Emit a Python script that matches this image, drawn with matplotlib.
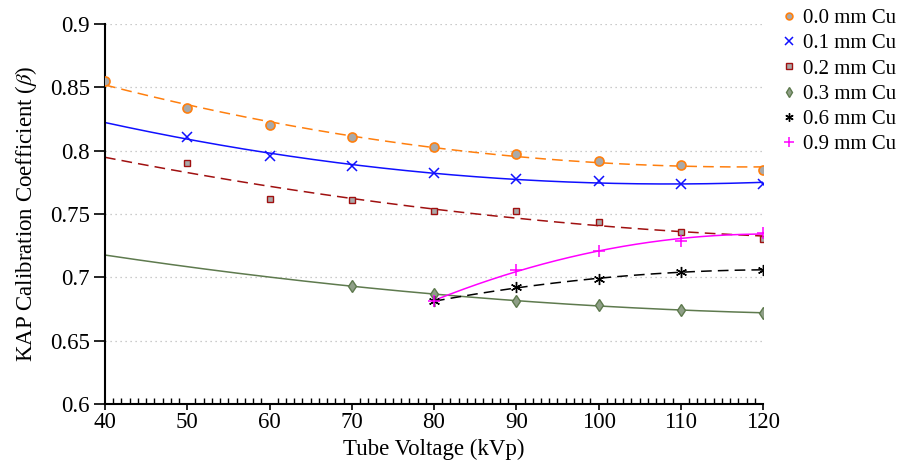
import numpy as np
import matplotlib.pyplot as plt
from matplotlib.ticker import MultipleLocator

plt.rcParams['font.family'] = ['Liberation Serif', 'DejaVu Serif']
plt.rcParams['mathtext.fontset'] = 'stix'

# Tube voltage (kVp)
kvp = [40, 50, 60, 70, 80, 90, 100, 110, 120]

cu_00 = [0.855, 0.834, 0.820, 0.811, 0.803, 0.797, 0.792, 0.789, 0.785]
cu_01 = [0.811, 0.796, 0.788, 0.782, 0.778, 0.776, 0.774, 0.774]
cu_02 = [0.790, 0.762, 0.761, 0.752, 0.752, 0.744, 0.736, 0.730]
cu_03 = [0.693, 0.687, 0.681, 0.678, 0.674, 0.672]
cu_06 = [0.681, 0.692, 0.699, 0.704, 0.706]
cu_09 = [0.681, 0.706, 0.721, 0.729, 0.735]

labels = ['0.0 mm Cu', '0.1 mm Cu', '0.2 mm Cu', '0.3 mm Cu', '0.6 mm Cu', '0.9 mm Cu']

series = [
    (kvp, cu_00, dict(marker='o', mfc='#a9a9a9', mec='#ff7f0e', ms=6.5, mew=1.2), '#ff7f0e', (0, (7, 4))),
    (kvp[1:], cu_01, dict(marker='x', color='#1010ff', ms=7, mew=1.1), '#1010ff', '-'),
    (kvp[1:], cu_02, dict(marker='s', mfc='#a9a9a9', mec='#a01010', ms=5, mew=1.0), '#a01010', (0, (7, 4))),
    (kvp[3:], cu_03, dict(marker='d', mfc='#8f9f87', mec='#5e7a4e', ms=6.5, mew=1.0), '#5e7a4e', '-'),
    (kvp[4:], cu_06, dict(marker=(6, 2, 0), color='black', ms=8, mew=1.0), 'black', (0, (7, 4))),
    (kvp[4:], cu_09, dict(marker='+', color='#ff00ff', ms=9, mew=1.1), '#ff00ff', '-'),
]

fig = plt.figure(figsize=(8.99, 4.73), dpi=100)
ax = fig.add_axes([0.1168, 0.1459, 0.7320, 0.8033])

for (x, y, mk, lc, ls), lab in zip(series, labels):
    x = np.array(x, dtype=float)
    y = np.array(y)
    # quadratic trend line
    coef = np.polyfit(x, y, 2)
    x0 = 40 if len(x) >= 6 else 80
    xf = np.linspace(x0, 120, 200)
    ax.plot(xf, np.polyval(coef, xf), color=lc, ls=ls, lw=1.1, zorder=2)
    ax.plot(x, y, ls='none', label=lab, zorder=3, **mk)

ax.set_xlim(40, 120)
ax.set_ylim(0.6, 0.9)
ax.xaxis.set_major_locator(MultipleLocator(10))
ax.xaxis.set_minor_locator(MultipleLocator(1))
ax.set_yticks([0.6, 0.65, 0.7, 0.75, 0.8, 0.85, 0.9])
ax.set_yticklabels(['0.6', '0.65', '0.7', '0.75', '0.8', '0.85', '0.9'])
ax.tick_params(axis='x', which='major', direction='out', length=4, width=1.2, labelsize=16.5, pad=2)
ax.tick_params(axis='x', which='minor', direction='in', length=4, width=1.0)
ax.tick_params(axis='y', which='major', direction='out', length=8, width=1.2, labelsize=16.5, pad=3)
ax.grid(axis='y', ls=(0, (1, 3)), color='#bbbbbb', lw=0.9)
ax.set_axisbelow(True)
for s in ['top', 'right']:
    ax.spines[s].set_visible(False)
for s in ['left', 'bottom']:
    ax.spines[s].set_linewidth(1.5)

ax.set_xlabel('Tube Voltage (kVp)', fontsize=16.5, labelpad=4)
ax.set_ylabel(r'KAP Calibration Coefficient ($\beta$)', fontsize=16.5, labelpad=8)

ax.legend(loc='upper left', bbox_to_anchor=(1.029, 1.046), frameon=False, fontsize=15,
          handlelength=0.5, handletextpad=0.4, labelspacing=0.27, borderaxespad=0,
          borderpad=0.1, markerscale=0.75)

fig.savefig('out.png', dpi=100)
